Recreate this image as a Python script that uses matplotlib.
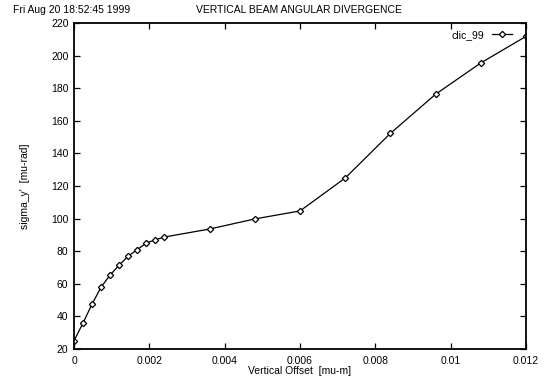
import matplotlib
matplotlib.use("Agg")
import matplotlib.pyplot as plt

plt.rcParams["font.family"] = ["Liberation Sans", "DejaVu Sans"]
plt.rcParams["font.size"] = 7.5

# vertical offset [mu-m] and sigma_y' [mu-rad]
offset = [0.0, 0.00024, 0.00048, 0.00072, 0.00096, 0.0012, 0.00144, 0.00168,
          0.00192, 0.00216, 0.0024, 0.0036, 0.0048, 0.006, 0.0072, 0.0084,
          0.0096, 0.0108, 0.012]
sigma = [25.0, 36.0, 47.6, 58.0, 65.4, 71.5, 77.0, 81.0, 85.0, 87.0, 88.7,
         93.6, 99.8, 104.7, 124.9, 152.3, 176.3, 195.5, 211.8]

x_ticks = [0, 0.002, 0.004, 0.006, 0.008, 0.01, 0.012]
x_labels = ["0", "0.002", "0.004", "0.006", "0.008", "0.01", "0.012"]
y_ticks = list(range(20, 221, 20))

fig = plt.figure(figsize=(5.44, 3.81), dpi=100)
ax = fig.add_axes([74 / 544, 32 / 381, 452 / 544, 326 / 381])

ax.plot(offset, sigma, color="black", lw=0.9, marker="D", ms=3.2,
        mfc="white", mec="black", mew=0.9, label="clic_99")

ax.set_xlim(0, 0.012)
ax.set_ylim(20, 220)
ax.set_xticks(x_ticks)
ax.set_xticklabels(x_labels)
ax.set_yticks(y_ticks)
ax.tick_params(direction="in", length=4, width=0.9, top=True, right=True,
               labelsize=7.5, pad=5)
ax.tick_params(axis="y", pad=4)
for s in ax.spines.values():
    s.set_linewidth(1.3)

ax.set_xlabel("Vertical Offset  [mu-m]", fontsize=7.5, labelpad=0)
ax.set_ylabel("sigma_y'  [mu-rad]", fontsize=7.5, labelpad=15)

leg = ax.legend(loc="upper right", frameon=False, fontsize=7.5,
                handlelength=1.9, handletextpad=0.8, markerfirst=False,
                borderaxespad=0.0, bbox_to_anchor=(0.978, 0.992))

fig.text(13 / 544, 1 - 10 / 381, "Fri Aug 20 18:52:45 1999", fontsize=7.5,
         ha="left", va="center")
fig.text(299 / 544, 1 - 10 / 381, "VERTICAL BEAM ANGULAR DIVERGENCE",
         fontsize=7.5, ha="center", va="center")

fig.savefig("out.png", dpi=100)
